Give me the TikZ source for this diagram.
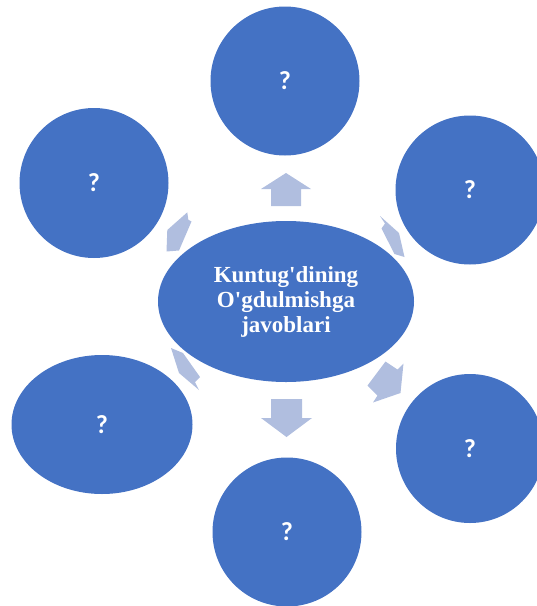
\documentclass[tikz,border=0pt]{standalone}
\usepackage{fontspec}
\setmainfont{Liberation Serif}
\newfontfamily\qfont{Carlito}
\usetikzlibrary{shapes.geometric}
\definecolor{nodeblue}{RGB}{68,114,196}
\definecolor{arrowblue}{RGB}{176,190,223}
\newcommand{\blockarr}[5]{% tip x, tip y (px), angle, length, head
  \fill[arrowblue, shift={(#1,-#2)}, rotate=#3]
    (0,0) -- (-#5,25.5) -- (-#5,15.5) -- (-#4,15.5) -- (-#4,-15.5)
    -- (-#5,-15.5) -- (-#5,-25.5) -- cycle;}
\begin{document}
\begin{tikzpicture}[x=1pt,y=-1pt,
  bubble/.style={ellipse, fill=nodeblue, draw=none, inner sep=0pt,
    text=white, font=\qfont\bfseries\fontsize{26}{30}\selectfont},
  hub/.style={ellipse, fill=nodeblue, draw=none, inner sep=0pt,
    text=white, align=center,
    font=\bfseries\fontsize{23}{25}\selectfont},
  arrowpatch/.style={fill=arrowblue}]
\useasboundingbox (0,0) rectangle (537,606);
% arrows (behind the shapes)
\fill[arrowblue] (286,173) -- (311,189) -- (301,189) -- (301,206)
  -- (271,206) -- (271,189) -- (261,189) -- cycle;
\fill[arrowblue] (286.5,437) -- (312,418) -- (302,418) -- (302,399)
  -- (271,399) -- (271,418) -- (261,418) -- cycle;
\fill[arrowpatch] (187.3,212.3) -- (188.3,219.7) -- (191.5,221.5)
  -- (179,250.5) -- (166.5,251.5) -- (167.3,230) -- cycle;
\fill[arrowpatch] (380,216) -- (385,223.5) -- (381.5,228.5)
  -- (394.5,254) -- (404.5,257) -- (399,233) -- cycle;
\fill[arrowpatch] (171,348) -- (179,373) -- (199,390) -- (195,382)
  -- (200,377) -- (183,353) -- cycle;
\fill[arrowpatch] (385.5,361.5) -- (397.5,369.5) -- (403.5,363.5)
  -- (400.5,393) -- (373,402.5) -- (377.5,395.5) -- (367.5,385.5) -- cycle;
% nodes
\node[hub, minimum width=256pt, minimum height=161pt] (c) at (286,301.5)
  {Kuntug\textquotesingle dining\\O\textquotesingle gdulmishga\\javoblari};
\node[bubble, minimum width=149pt, minimum height=149pt] (t) at (285,81) {?};
\node[bubble, minimum width=149pt, minimum height=150pt] (tl) at (94,183) {?};
\node[bubble, minimum width=149pt, minimum height=149pt] (tr) at (470,190) {?};
\node[bubble, minimum width=181pt, minimum height=139pt] (bl) at (102,424.5) {?};
\node[bubble, minimum width=149pt, minimum height=149pt] (b) at (287,532) {?};
\node[bubble, minimum width=148pt, minimum height=149pt] (br) at (470,448.5) {?};
\end{tikzpicture}
\end{document}
